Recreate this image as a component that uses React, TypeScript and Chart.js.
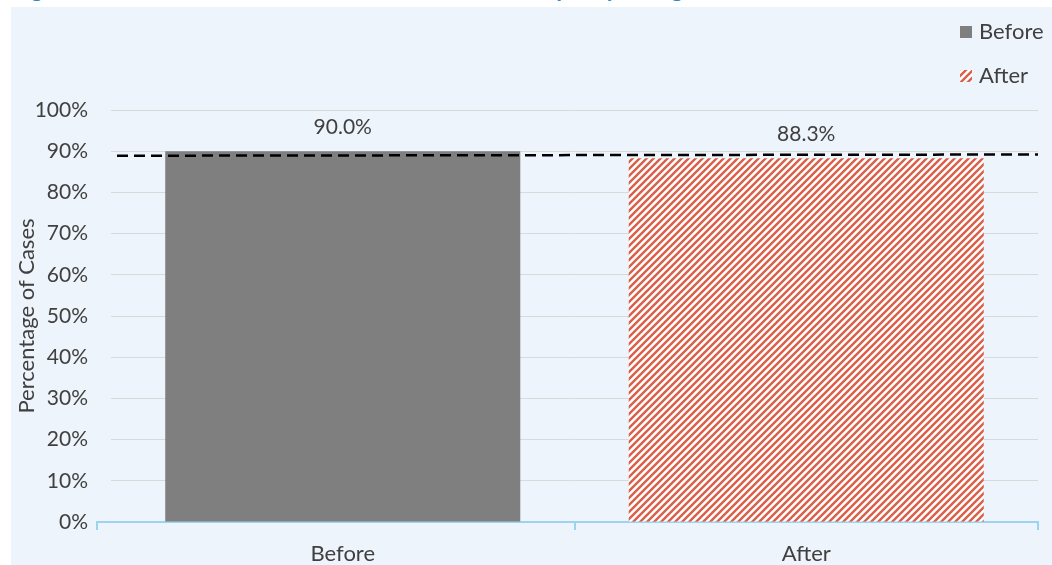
import React, { useEffect, useRef } from 'react';
import { Chart, registerables } from 'chart.js';

Chart.register(...registerables);

const categories: string[] = ['Before', 'After'];
const rateValues: number[] = [90.0, 88.3];
const referenceX: number[] = [0.0065, 1];
const referenceY: number[] = [88.9, 89.2];
const legendLabels: string[] = ['Before', 'After'];
const yAxisTitle = 'Percentage of Cases';
const titleText = 'Figure 4: Success resolution rate before and after the policy change';
const yMin = 0;
const yMax = 100;
const yStep = 10;

const FONT = 'Lato, "Open Sans", sans-serif';
const TEXT = '#404040';
const GREY = '#7F7F7F';
const HATCH = '#D9604A';
const AXIS = '#9DD3EF';

function makeHatch(ctx: CanvasRenderingContext2D): CanvasPattern {
  const s = 7;
  const c = document.createElement('canvas');
  c.width = s;
  c.height = s;
  const g = c.getContext('2d')!;
  g.fillStyle = '#ffffff';
  g.fillRect(0, 0, s, s);
  g.strokeStyle = HATCH;
  g.lineWidth = 2.4;
  g.beginPath();
  g.moveTo(-1, s + 1);
  g.lineTo(s + 1, -1);
  g.moveTo(-1, 1);
  g.lineTo(1, -1);
  g.moveTo(s - 1, s + 1);
  g.lineTo(s + 1, s - 1);
  g.stroke();
  return ctx.createPattern(c, 'repeat')!;
}

export default function App() {
  const canvasRef = useRef<HTMLCanvasElement | null>(null);

  useEffect(() => {
    const canvas = canvasRef.current;
    if (!canvas) return;
    const ctx = canvas.getContext('2d')!;
    const hatch = makeHatch(ctx);
    const fills = [GREY, hatch];

    const decor = {
      id: 'decor',
      afterDatasetsDraw(chart: any) {
        const c = chart.ctx as CanvasRenderingContext2D;
        const area = chart.chartArea;
        const meta = chart.getDatasetMeta(0);
        c.save();
        c.font = `21px ${FONT}`;
        c.fillStyle = TEXT;
        c.textAlign = 'center';
        c.textBaseline = 'middle';
        meta.data.forEach((bar: any, i: number) => {
          c.fillText(`${rateValues[i].toFixed(1)}%`, bar.x, bar.y - 24);
        });
        // axis extension to the left
        c.strokeStyle = AXIS;
        c.lineWidth = 2;
        c.beginPath();
        c.moveTo(area.left - 14, area.bottom);
        c.lineTo(area.left + 1, area.bottom);
        c.moveTo(area.left - 14, area.bottom - 1);
        c.lineTo(area.left - 14, area.bottom + 8);
        c.stroke();
        // legend
        c.font = `22px ${FONT}`;
        const lx = chart.width - 92;
        const rows = [32, 76];
        legendLabels.forEach((lab, i) => {
          const y = rows[i];
          c.fillStyle = fills[i] as any;
          c.fillRect(lx, y - 6, 12, 12);
          c.fillStyle = TEXT;
          c.textAlign = 'left';
          c.fillText(lab, lx + 19, y);
        });
        c.restore();
      },
    };

    const chart = new Chart(ctx, {
      type: 'bar',
      data: {
        labels: categories,
        datasets: [
          {
            type: 'bar',
            label: 'Rate',
            data: rateValues,
            backgroundColor: fills as any,
            barPercentage: 0.766,
            categoryPercentage: 1,
            grouped: false,
            xAxisID: 'x',
            yAxisID: 'y',
            order: 2,
          } as any,
          {
            type: 'line',
            label: 'Reference',
            data: referenceX.map((x, i) => ({ x, y: referenceY[i] })),
            xAxisID: 'x2',
            yAxisID: 'y',
            borderColor: '#000000',
            borderWidth: 2.5,
            borderDash: [11, 6],
            pointRadius: 0,
            fill: false,
            order: 1,
          } as any,
        ],
      },
      options: {
        animation: false,
        responsive: true,
        maintainAspectRatio: false,
        layout: { padding: { top: 110, right: 14, left: 0, bottom: 0 } },
        plugins: {
          legend: { display: false },
          tooltip: { enabled: false },
          title: { display: false },
        },
        scales: {
          x: {
            type: 'category',
            offset: true,
            grid: {
              offset: true,
              drawOnChartArea: false,
              drawTicks: true,
              tickLength: 8,
              lineWidth: 2,
              color: (c: any) => (c.index === 0 ? 'rgba(0,0,0,0)' : AXIS),
            },
            border: { display: true, color: AXIS, width: 2 },
            ticks: { color: TEXT, font: { family: FONT, size: 22 }, padding: 11 },
            afterFit: (s: any) => {
              s.height = 43;
            },
          },
          x2: {
            type: 'linear',
            display: false,
            offset: false,
            min: 0,
            max: 1,
          },
          y: {
            min: yMin,
            max: yMax,
            grid: { color: '#D9D9D9', lineWidth: 1, drawTicks: false },
            border: { display: false },
            ticks: {
              stepSize: yStep,
              color: TEXT,
              font: { family: FONT, size: 21 },
              padding: 23,
              callback: (v: any) => `${v}%`,
            },
            title: {
              display: true,
              text: yAxisTitle,
              color: TEXT,
              font: { family: FONT, size: 22 },
              padding: { top: 14, bottom: 0 },
            },
            afterFit: (s: any) => {
              s.width = 111;
            },
          },
        },
      },
      plugins: [decor],
    });
    return () => chart.destroy();
  }, []);

  return (
    <div style={{ position: 'absolute', left: 0, top: 0, width: 1052, height: 565, background: '#ffffff', overflow: 'hidden' }}>
      <div style={{ position: 'absolute', left: 0, top: 0, width: 1052, height: 7, overflow: 'hidden' }}>
        <div
          style={{
            position: 'absolute',
            left: 12,
            top: -24,
            whiteSpace: 'nowrap',
            font: `bold 23px ${FONT}`,
            lineHeight: '24px',
            color: '#2B8CCB',
          }}
        >
          {titleText}
        </div>
      </div>
      <div style={{ position: 'absolute', left: 11, top: 7, right: 0, bottom: 0, background: '#EEF4FB' }} />
      <div style={{ position: 'absolute', left: 0, top: 0, width: 1052, height: 565 }}>
        <canvas ref={canvasRef} />
      </div>
    </div>
  );
}
